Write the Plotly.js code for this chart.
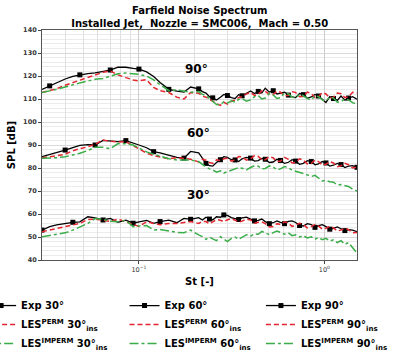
<!DOCTYPE html>
<html>
<head>
<meta charset="utf-8">
<script src="https://cdn.plot.ly/plotly-3.0.1.min.js"></script>
<style>html,body{margin:0;padding:0;background:#fff;}#chart{width:394px;height:362px;}</style>
</head>
<body>
<div id="chart"></div>
<script>
// Strouhal number grid
const St = [0.030,0.033,0.036,0.040,0.044,0.048,0.053,0.058,0.064,0.070,0.077,0.085,0.093,0.10,0.11,0.12,0.13,0.145,0.16,0.175,0.19,
  0.21,0.22,0.23,0.24,0.25,0.262,0.275,0.287,0.30,0.315,0.33,0.345,0.36,0.38,0.40,0.42,0.44,0.46,0.48,0.505,0.53,0.555,0.58,0.61,0.64,0.67,0.70,0.735,0.77,0.81,0.85,0.89,0.93,0.975,1.02,1.07,1.12,1.175,1.23,1.29,1.35,1.42,1.5];

// 90 deg
const exp90 = [114.2,115.7,117.0,118.7,119.8,120.5,121.0,121.4,121.9,122.6,123.9,123.8,123.3,123.0,121.8,119.8,117.2,114.2,113.4,113.0,115.2,
  114.4,113.2,112.6,111.0,110.5,109.6,110.8,112.0,111.5,110.6,110.2,111.9,111.4,112.6,113.5,112.4,113.3,112.6,114.7,113.0,113.6,112.2,112.6,113.0,111.7,110.9,110.6,112.4,111.9,110.3,110.9,112.0,111.3,109.8,108.5,111.0,110.2,109.4,111.3,109.5,110.4,111.0,109.9];
const perm90 = [112.8,113.6,114.5,116.0,117.2,118.2,119.3,120.6,121.6,122.2,120.5,119.3,118.3,117.9,118.4,115.0,113.6,112.8,110.8,110.0,112.8,
  112.5,111.2,110.8,109.8,109.0,108.0,107.2,108.6,107.8,109.0,109.5,110.6,111.0,112.2,112.8,111.6,112.0,113.6,113.3,112.0,112.0,113.4,113.0,111.4,111.6,113.2,112.8,111.0,111.2,113.0,112.4,110.6,111.0,112.8,112.2,110.4,110.8,112.6,112.3,110.6,111.0,112.9,112.6];
const imperm90 = [112.8,113.4,114.2,115.2,116.2,117.0,117.8,118.6,118.9,119.8,121.0,121.3,121.0,120.7,120.0,118.3,116.2,113.6,114.0,113.5,112.9,
  113.2,112.0,111.5,110.0,109.0,107.6,107.5,108.8,108.2,109.2,108.6,109.8,110.2,109.0,109.6,111.0,111.5,110.0,110.4,112.4,111.8,110.2,110.6,112.6,112.2,110.8,110.4,112.0,111.4,110.2,109.6,111.4,111.0,109.6,109.2,110.8,110.4,108.6,108.8,110.0,109.6,108.4,107.8];

// 60 deg
const exp60 = [84.9,85.8,86.6,87.8,88.9,89.8,90.2,90.0,92.0,91.6,91.5,91.9,91.0,90.0,88.8,87.1,86.6,85.5,84.6,84.3,87.2,
  86.6,84.0,82.0,81.0,80.8,82.4,83.6,84.9,84.6,83.6,83.5,82.8,84.0,84.6,84.3,83.0,83.2,84.2,83.8,82.4,82.6,83.8,83.3,82.0,82.5,83.6,83.0,81.6,82.0,83.2,82.8,81.4,81.8,82.8,82.2,80.8,81.2,82.0,81.5,80.2,80.8,81.0,80.3];
const perm60 = [84.5,84.8,85.3,86.0,87.5,88.4,89.2,90.3,92.2,91.6,91.3,91.4,89.6,88.4,86.5,85.4,84.7,84.0,84.5,84.2,83.8,
  82.6,83.8,83.4,82.4,82.0,83.6,83.2,84.0,84.2,83.0,83.6,85.0,84.8,83.4,84.0,85.4,85.0,83.6,83.6,85.0,84.4,82.8,83.0,84.6,83.8,82.2,82.4,84.0,83.4,81.8,82.0,83.4,82.8,81.2,81.6,82.8,82.2,80.6,81.0,82.0,81.4,80.0,80.4];
const imperm60 = [84.2,84.3,84.5,84.9,85.6,86.4,87.6,89.0,89.0,88.4,90.6,90.5,90.0,88.8,87.0,86.0,85.2,84.0,83.5,83.5,83.5,
  82.8,81.4,80.4,79.6,79.2,78.2,78.8,77.8,78.3,79.0,79.4,80.2,79.9,79.2,80.2,81.0,80.8,79.6,79.8,80.9,80.4,79.2,79.6,80.6,80.2,79.0,78.6,78.2,77.6,77.0,76.3,76.8,75.6,74.4,74.6,74.0,73.8,72.6,72.8,72.4,72.0,70.8,70.0];

// 30 deg
const exp30 = [53.0,54.5,55.3,56.0,56.4,56.6,58.8,58.3,57.4,58.1,56.4,57.3,56.0,56.6,57.2,55.9,56.7,57.3,56.2,58.1,57.7,
  58.4,57.4,58.6,57.8,57.4,58.8,58.6,59.6,59.4,58.4,58.1,57.6,58.3,58.6,57.8,57.0,57.2,57.8,56.7,55.8,56.2,57.0,56.4,55.8,56.8,57.0,56.3,55.0,54.8,55.8,55.4,54.2,54.9,55.4,54.5,53.4,53.8,54.4,53.6,52.8,53.2,53.0,52.3];
const perm30 = [52.3,53.0,53.8,54.5,55.2,55.9,57.6,57.8,57.3,56.7,57.8,56.6,55.2,54.6,56.6,55.8,55.3,55.9,55.9,56.3,56.7,
  55.9,56.8,56.7,55.8,56.6,57.6,57.3,56.6,57.5,58.0,57.3,56.4,56.9,57.8,57.4,56.0,56.4,56.6,55.8,54.4,54.6,55.8,55.4,56.6,56.0,54.6,55.2,56.0,55.4,54.0,54.5,55.4,54.8,53.4,53.8,54.6,54.0,52.6,53.0,53.8,53.2,51.8,52.0];
const imperm30 = [50.1,50.6,51.2,51.8,53.0,54.4,55.9,58.0,57.7,56.8,56.6,57.2,54.5,54.8,55.0,53.0,53.3,52.6,52.0,51.9,53.0,
  50.9,50.2,49.0,50.0,49.2,48.4,50.1,49.0,48.0,49.4,50.0,49.0,49.8,51.0,50.4,51.4,51.2,52.4,51.8,51.0,51.9,52.6,52.0,51.2,51.8,50.6,51.0,50.0,50.6,49.6,50.1,49.0,49.8,48.8,49.4,48.2,48.8,47.6,48.4,46.8,47.6,45.6,43.0];

// axis ticks
const xTickVals = [0.1, 1];
const xTickText = ['10<sup>\u22121</sup>', '10<sup>0</sup>'];
const xMinorVals = [0.03,0.04,0.05,0.06,0.07,0.08,0.09,0.2,0.3,0.4,0.5,0.6,0.7,0.8,0.9];

// angle labels
const angleLabels = ['90\u00b0','60\u00b0','30\u00b0'];
const angleLabelSt = [0.205,0.21,0.21];
const angleLabelSPL = [123,95.2,68.3];

const BLACK = '#000000', RED = '#e3262e', GREEN = '#3aad48';
const FONT = 'DejaVu Sans, sans-serif';

function expTrace(y, ang, leg) {
  return {x: St, y: y, type: 'scatter', mode: 'lines+markers', name: 'Exp ' + ang + '\u00b0',
    line: {color: BLACK, width: 1.3}, marker: {symbol: 'square', size: 5, color: BLACK, maxdisplayed: 16},
    legend: leg};
}
function permTrace(y, ang, leg) {
  return {x: St, y: y, type: 'scatter', mode: 'lines', name: 'LES<sup>PERM</sup> ' + ang + '\u00b0<sub>ins</sub>',
    line: {color: RED, width: 1.5, dash: '5px,3px'}, legend: leg};
}
function impermTrace(y, ang, leg) {
  return {x: St, y: y, type: 'scatter', mode: 'lines', name: 'LES<sup>IMPERM</sup> ' + ang + '\u00b0<sub>ins</sub>',
    line: {color: GREEN, width: 1.5, dash: 'dashdot'}, legend: leg};
}

const data = [
  expTrace(exp30, 30, 'legend'), permTrace(perm30, 30, 'legend'), impermTrace(imperm30, 30, 'legend'),
  expTrace(exp60, 60, 'legend2'), permTrace(perm60, 60, 'legend2'), impermTrace(imperm60, 60, 'legend2'),
  expTrace(exp90, 90, 'legend3'), permTrace(perm90, 90, 'legend3'), impermTrace(imperm90, 90, 'legend3')
];

const legBase = {orientation: 'v', xanchor: 'left', yanchor: 'top', y: -0.135, bgcolor: 'rgba(0,0,0,0)',
  font: {family: FONT, size: 10, color: '#000', weight: 'bold'}, tracegroupgap: 0};

const layout = {
  width: 394, height: 362,
  margin: {l: 42, r: 37, t: 30, b: 102, autoexpand: false},
  paper_bgcolor: '#fff', plot_bgcolor: '#fff',
  font: {family: FONT, color: '#000'},
  title: {text: 'Farfield Noise Spectrum<br>Installed Jet,  Nozzle = SMC006,  Mach = 0.50',
    font: {family: FONT, size: 10, color: '#000', weight: 'bold'}, x: 0.507, xanchor: 'center', y: 0.96, yanchor: 'top'},
  xaxis: {type: 'log', range: [Math.log10(0.03), Math.log10(1.5)],
    tickmode: 'array', tickvals: xTickVals, ticktext: xTickText,
    tickfont: {family: FONT, size: 6.5, color: '#333'},
    ticks: 'outside', ticklen: 3, tickcolor: '#444',
    showgrid: true, gridcolor: '#c8c8c8', gridwidth: 0.9,
    minor: {tickmode: 'array', tickvals: xMinorVals, showgrid: true, gridcolor: '#d8d8d8', gridwidth: 0.8, ticks: ''},
    showline: true, linecolor: '#555', linewidth: 1, mirror: true, zeroline: false,
    title: {text: 'St [-]', font: {family: FONT, size: 10, color: '#000', weight: 'bold'}, standoff: 5},
    automargin: false},
  yaxis: {range: [40, 140], dtick: 10, tick0: 40,
    tickfont: {family: FONT, size: 6.5, color: '#333', weight: 'bold'},
    ticks: 'outside', ticklen: 3, tickcolor: '#444',
    showgrid: true, gridcolor: '#cfcfcf', gridwidth: 0.8,
    minor: {dtick: 2, showgrid: true, gridcolor: '#e3e3e3', gridwidth: 0.7, ticks: ''},
    showline: true, linecolor: '#555', linewidth: 1, mirror: true, zeroline: false,
    title: {text: 'SPL [dB]', font: {family: FONT, size: 10, color: '#000', weight: 'bold'}, standoff: 5},
    automargin: false},
  legend: Object.assign({}, legBase, {x: -0.152, indentation: -13}),
  legend2: Object.assign({}, legBase, {x: 0.262}),
  legend3: Object.assign({}, legBase, {x: 0.695}),
  annotations: angleLabels.map((t, i) => ({
    text: t, x: Math.log10(angleLabelSt[i]), y: angleLabelSPL[i], xref: 'x', yref: 'y',
    showarrow: false, font: {family: FONT, size: 12, color: '#000', weight: 'bold'}
  }))
};

Plotly.newPlot('chart', data, layout, {displayModeBar: false, staticPlot: true});
</script>
</body>
</html>
